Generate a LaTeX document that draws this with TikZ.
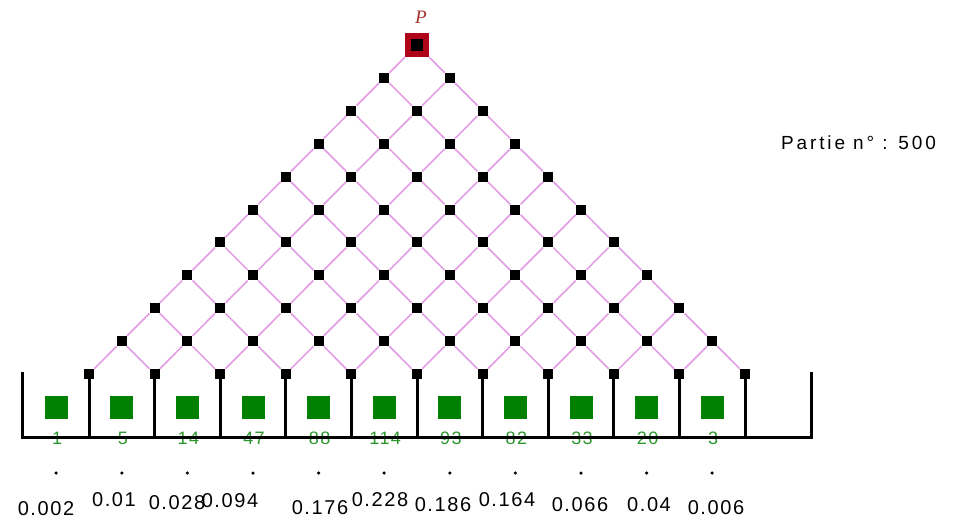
\documentclass[tikz,border=0pt]{standalone}
\usepackage{fontspec}
\setmainfont{Liberation Sans}
\newfontfamily\spaced[LetterSpace=15]{Liberation Sans}
\newfontfamily\numfont[LetterSpace=8]{Liberation Sans}
\newfontfamily\pfont{Liberation Serif}
\definecolor{apexred}{RGB}{175,5,25}
\definecolor{pcolor}{RGB}{165,50,50}
\definecolor{linkpink}{RGB}{228,160,228}
\definecolor{bingreen}{RGB}{0,128,0}
\definecolor{countgreen}{RGB}{45,150,45}
\begin{document}
\begin{tikzpicture}[x=1pt,y=-1pt,
  peg/.style={rectangle,fill=black,minimum size=10pt,inner sep=0pt},
  apex/.style={rectangle,fill=apexred,minimum size=24pt,inner sep=0pt,
    path picture={\fill[black] ([xshift=-6pt,yshift=-6pt]path picture bounding box.center) rectangle ([xshift=6pt,yshift=6pt]path picture bounding box.center);}},
  link/.style={draw=linkpink,line width=1.7pt},
  wall/.style={draw=black,line width=3pt},
  binbox/.style={rectangle,fill=bingreen,minimum size=23pt,inner sep=0pt},
  count/.style={text=countgreen,font=\numfont\fontsize{18}{18}\selectfont,inner sep=0pt},
  prob/.style={font=\numfont\fontsize{20}{20}\selectfont,inner sep=0pt},
  dotmark/.style={circle,fill=black,minimum size=3.5pt,inner sep=0pt}
]
\useasboundingbox (0,0) rectangle (955,528);
% pegs
\foreach \k in {0,...,10}{
  \foreach \j in {0,...,\k}{
    \pgfmathsetmacro\px{417+32.8*(2*\j-\k)}
    \pgfmathsetmacro\py{45+32.9*\k}
    \ifnum\k=0
      \node[apex] (p-\k-\j) at (\px,\py) {};
    \else
      \node[peg] (p-\k-\j) at (\px,\py) {};
    \fi
  }
}
% links
\foreach \k in {0,...,9}{
  \pgfmathtruncatemacro\kk{\k+1}
  \foreach \j in {0,...,\k}{
    \pgfmathtruncatemacro\jj{\j+1}
    \draw[link] (p-\k-\j) -- (p-\kk-\j);
    \draw[link] (p-\k-\j) -- (p-\kk-\jj);
  }
}
% posts
\foreach \j in {0,...,10}{
  \path (p-10-\j) ++(0,63) coordinate (f-\j);
  \draw[wall] (p-10-\j.south) -- (f-\j);
}
% bins, counts, dots
\foreach \i/\c in {0/1,1/5,2/14,3/47,4/88,5/114,6/93,7/82,8/33,9/20,10/3}{
  \pgfmathsetmacro\bx{417+32.8*(2*\i-11)}
  \node[binbox] (bin-\i) at (\bx,407) {};
  \node[count] (cnt-\i) at (\bx+1,438) {\c};
  \node[dotmark] (dot-\i) at (\bx,473) {};
}
% walls and floor
\coordinate (wl-top) at (22,372);
\coordinate (wl-bot) at (22,437);
\coordinate (wr-top) at (811,372);
\coordinate (wr-bot) at (811,437);
\draw[wall] (wl-top) -- (wl-bot) -- (wr-bot) -- (wr-top);
% probabilities
\node[prob] (pr-0) at (46,509) {0.002};
\node[prob] (pr-1) at (114,500) {0.01};
\node[prob] (pr-2) at (177,503) {0.028};
\node[prob] (pr-3) at (230,501) {0.094};
\node[prob] (pr-4) at (320,508) {0.176};
\node[prob] (pr-5) at (380,500) {0.228};
\node[prob] (pr-6) at (443,505) {0.186};
\node[prob] (pr-7) at (507,500) {0.164};
\node[prob] (pr-8) at (580,505) {0.066};
\node[prob] (pr-9) at (649,505) {0.04};
\node[prob] (pr-10) at (716,508) {0.006};
% labels
\node[text=pcolor,font=\pfont\itshape\fontsize{19}{19}\selectfont,inner sep=0pt] (plabel) at (421,17) {P};
\node[anchor=west,font=\spaced\fontsize{19}{19}\selectfont,inner sep=0pt] (partie) at (781,143) {Partie n° : 500};
\end{tikzpicture}
\end{document}
